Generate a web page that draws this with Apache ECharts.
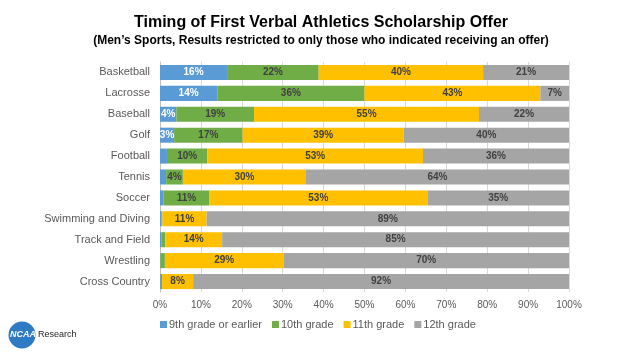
<!DOCTYPE html>
<html>
<head>
<meta charset="utf-8">
<script src="https://cdn.jsdelivr.net/npm/echarts@6/dist/echarts.min.js"></script>
<style>
  html, body { margin: 0; padding: 0; background: #fff; }
  #chart { width: 633px; height: 354px; }
</style>
</head>
<body>
<div id="chart"></div>
<script>
// sports, top to bottom
const sports = ['Basketball', 'Lacrosse', 'Baseball', 'Golf', 'Football', 'Tennis', 'Soccer',
  'Swimming and Diving', 'Track and Field', 'Wrestling', 'Cross Country'];
const seriesNames = ['9th grade or earlier', '10th grade', '11th grade', '12th grade'];

// percentages
const grade9 = [16.4, 14.0, 4.0, 3.45, 1.7, 1.5, 0.9, 0.4, 0.3, 0.1, 0.2];
const grade10 = [22.4, 36.0, 19.0, 16.75, 9.9, 4.1, 11.1, 0.2, 1.0, 1.1, 0.3];
const grade11 = [40.2, 43.0, 55.0, 39.4, 52.7, 30.1, 53.4, 10.8, 13.9, 29.0, 7.6];
const grade12 = [21.0, 7.0, 22.0, 40.4, 35.7, 64.3, 34.6, 88.6, 84.8, 69.8, 91.9];
const xTicks = [0, 10, 20, 30, 40, 50, 60, 70, 80, 90, 100];

const colors = ['#5B9BD5', '#70AD47', '#FFC000', '#A5A5A5'];
const labelColors = ['#ffffff', '#404040', '#404040', '#404040'];

const chart = echarts.init(document.getElementById('chart'));

const series = [grade9, grade10, grade11, grade12].map((data, i) => ({
  name: seriesNames[i],
  type: 'bar',
  stack: 'total',
  barCategoryGap: '28%',
  data: data,
  itemStyle: { color: colors[i] },
  label: {
    show: true,
    position: 'inside',
    color: labelColors[i],
    fontFamily: 'Arial, Liberation Sans, sans-serif',
    fontWeight: 'bold',
    fontSize: 10,
    formatter: p => (p.value >= 2.5 ? Math.round(p.value) + '%' : '')
  }
}));

chart.setOption({
  animation: false,
  textStyle: { fontFamily: 'Arial, Liberation Sans, sans-serif' },
  title: {
    text: 'Timing of First Verbal Athletics Scholarship Offer',
    subtext: '(Men\u2019s Sports, Results restricted to only those who indicated receiving an offer)',
    left: 316,
    textAlign: 'center',
    top: 10,
    itemGap: 4,
    textStyle: { fontSize: 16, fontWeight: 'bold', color: '#000' },
    subtextStyle: { fontSize: 12, fontWeight: 'bold', color: '#000' }
  },
  legend: {
    data: seriesNames,
    left: 155,
    top: 314,
    itemWidth: 7,
    itemHeight: 7,
    itemGap: 10,
    icon: 'rect',
    textStyle: { fontSize: 11, color: '#595959', padding: [0, 0, 0, -3] }
  },
  grid: { left: 160, right: 64, top: 62, bottom: 62 },
  xAxis: {
    type: 'value',
    min: 0,
    max: 100,
    interval: 10,
    axisLabel: {
      fontSize: 10,
      color: '#595959',
      margin: 8,
      formatter: v => (xTicks.includes(v) ? v + '%' : '')
    },
    axisLine: { show: false },
    axisTick: { show: false },
    splitLine: { lineStyle: { color: '#d9d9d9' } }
  },
  yAxis: {
    type: 'category',
    data: sports,
    inverse: true,
    axisLabel: { fontSize: 11, color: '#595959', margin: 10 },
    axisLine: { lineStyle: { color: '#bfbfbf' } },
    axisTick: { show: false }
  },
  graphic: [
    {
      type: 'circle',
      shape: { cx: 22, cy: 335, r: 13.5 },
      style: { fill: '#2E7BC4' }
    },
    {
      type: 'text',
      left: 10,
      top: 330,
      style: { text: 'NCAA', fill: '#fff', font: 'italic bold 9px Arial' }
    },
    {
      type: 'text',
      left: 38,
      top: 330,
      style: { text: 'Research', fill: '#222', font: '9px Arial' }
    }
  ],
  series: series
});
</script>
</body>
</html>
